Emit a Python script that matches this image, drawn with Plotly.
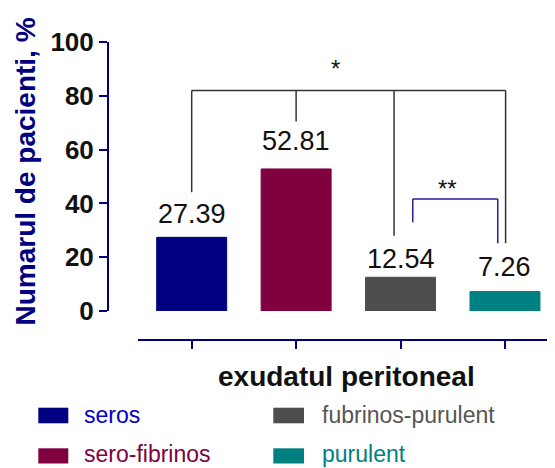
import plotly.graph_objects as go

# ---- data ----
categories = ["seros", "sero-fibrinos", "fubrinos-purulent", "purulent"]
values = [27.39, 52.81, 12.54, 7.26]
y_tickvals = [0, 20, 40, 60, 80, 100]
y_ticktext = ["0", "20", "40", "60", "80", "100"]
sig_outer = "*"
sig_inner = "**"

# ---- styles ----
bar_colors = ["#000080", "#800040", "#4d4d4d", "#008080"]
legend_text_colors = ["#0000cc", "#800040", "#555555", "#008080"]
NAVY = "#000080"
FONT = "Liberation Sans, Arial, sans-serif"

# the page body has an 8px margin, so the figure is offset by 8px
OFF = 8
W, H = 555 - OFF, 468 - OFF
ML, MR, MT, MB = 108 - OFF, 0, 42 - OFF, 128
PW, PH = W - ML - MR, H - MT - MB


def px2x(px):
    return (px - OFF - ML) / PW


def py2y(py):
    return (H - MB - (py - OFF)) / PH


fig = go.Figure()
positions = list(range(len(categories)))
for i, (cat, val) in enumerate(zip(categories, values)):
    fig.add_trace(go.Bar(
        x=[positions[i]], y=[val], name=cat, width=0.67,
        marker=dict(color=bar_colors[i], line=dict(color=bar_colors[i], width=1)),
        showlegend=False,
    ))

annotations = []
shapes = []

# value labels
label_offsets = [8.8, 10.3, 6.9, 9.2]
for i, val in enumerate(values):
    annotations.append(dict(
        x=positions[i], y=val + label_offsets[i], xref="x", yref="y",
        text=f"{val:.2f}", showarrow=False, yanchor="middle", xanchor="center",
        font=dict(family=FONT, size=27, color="#111111"),
    ))

# significance brackets
def seg(x0, y0, x1, y1, color, width):
    shapes.append(dict(type="line", xref="x", yref="y", x0=x0, y0=y0, x1=x1, y1=y1,
                       line=dict(color=color, width=width), layer="above"))

oc = "#333333"
seg(0, 82, 3.006, 82, oc, 1.5)
seg(0, 82, 0, 44.1, oc, 1.5)
seg(1.0, 82, 1.0, 70.4, oc, 1.5)
seg(1.938, 82, 1.938, 28, oc, 1.5)
seg(3.006, 82, 3.006, 25.2, oc, 1.5)

ic = "#1f1f99"
seg(2.117, 41.6, 2.931, 41.6, ic, 1.5)
seg(2.117, 41.6, 2.117, 33, ic, 1.5)
seg(2.931, 41.6, 2.931, 25.2, ic, 1.5)

annotations.append(dict(x=1.373, y=90.2, xref="x", yref="y", text=sig_outer, showarrow=False,
                        font=dict(family=FONT, size=24, color="#111111")))
annotations.append(dict(x=2.445, y=45.7, xref="x", yref="y", text=sig_inner, showarrow=False,
                        font=dict(family=FONT, size=24, color="#111111")))

# y axis title
annotations.append(dict(
    x=px2x(25), y=py2y(171.5), xref="paper", yref="paper", text="Numarul de pacienti, %",
    textangle=-90, showarrow=False, xanchor="center", yanchor="middle",
    font=dict(family=FONT, size=28, color=NAVY, weight="bold"),
))
# x axis title
annotations.append(dict(
    x=px2x(346), y=py2y(376.5), xref="paper", yref="paper", text="exudatul peritoneal",
    showarrow=False, xanchor="center", yanchor="middle",
    font=dict(family=FONT, size=28, color="#111111", weight="bold"),
))

# custom legend
leg_cols = [(38.3, 68.3, 81.7), (273.3, 304, 320)]
leg_rows = [(407.7, 423.3, 414.5), (448.3, 463.5, 454)]
leg_slots = [(0, 0), (1, 0), (0, 1), (1, 1)]  # (row, col) per category
for i, cat in enumerate(categories):
    r, c = leg_slots[i]
    x0, x1, tx = leg_cols[c]
    y0, y1, ty = leg_rows[r]
    shapes.append(dict(type="rect", xref="paper", yref="paper",
                       x0=px2x(x0), x1=px2x(x1), y0=py2y(y1), y1=py2y(y0),
                       fillcolor=bar_colors[i], line=dict(width=0)))
    annotations.append(dict(
        x=px2x(tx), y=py2y(ty), xref="paper", yref="paper", text=cat,
        showarrow=False, xanchor="left", yanchor="middle",
        font=dict(family=FONT, size=23, color=legend_text_colors[i]),
    ))

fig.update_layout(
    width=W, height=H,
    margin=dict(l=ML, r=MR, t=MT, b=MB, pad=0),
    paper_bgcolor="white", plot_bgcolor="white",
    barmode="overlay",
    showlegend=False,
    xaxis=dict(
        domain=[px2x(137.7), 1], range=[-0.517, 3.479],
        anchor="free", position=0,
        showline=True, linecolor=NAVY, linewidth=2,
        ticks="outside", ticklen=8, tickwidth=2, tickcolor=NAVY,
        tickvals=positions, showticklabels=False,
        showgrid=False, zeroline=False, fixedrange=True,
    ),
    yaxis=dict(
        domain=[py2y(311), 1], range=[0, 100],
        anchor="free", position=0,
        showline=True, linecolor=NAVY, linewidth=2,
        ticks="outside", ticklen=8, tickwidth=2, tickcolor=NAVY,
        tickvals=y_tickvals, ticktext=y_ticktext,
        tickfont=dict(family=FONT, size=26, color="#111111", weight="bold"),
        showgrid=False, zeroline=False, fixedrange=True,
    ),
    annotations=annotations,
    shapes=shapes,
)

fig.write_html("out.html")
